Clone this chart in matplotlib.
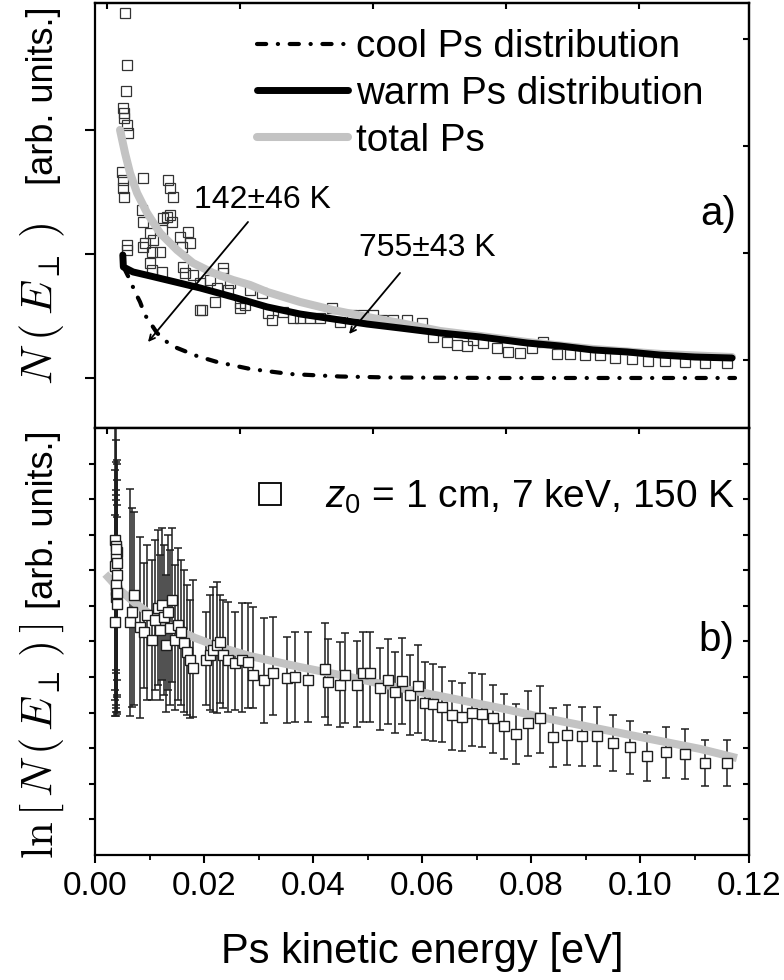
import numpy as np
import matplotlib

matplotlib.use("Agg")
import matplotlib.pyplot as plt  # noqa: E402
from matplotlib.lines import Line2D  # noqa: E402
from matplotlib.ticker import FormatStrFormatter, MultipleLocator  # noqa: E402

plt.rcParams["font.family"] = ["Liberation Sans", "DejaVu Sans"]
plt.rcParams["mathtext.fontset"] = "custom"
plt.rcParams["mathtext.rm"] = "Liberation Sans"
plt.rcParams["mathtext.it"] = "Liberation Sans:italic"

GRAY = "#c3c3c3"

# ---- panel a: N(E) data (eV, arb. units) ----
a_x = [0.00514, 0.00532, 0.00532, 0.00587, 0.00606, 0.00550, 0.00587, 0.00569,
       0.00495, 0.00514, 0.00514, 0.00532, 0.00587, 0.00587, 0.00862, 0.00881,
       0.00881, 0.00917, 0.00881, 0.01009, 0.01064, 0.01046, 0.01193, 0.01009,
       0.01046, 0.01229, 0.01229, 0.01248, 0.01321, 0.01339, 0.01376, 0.01376,
       0.01413, 0.01431, 0.01560, 0.01596, 0.01615, 0.01651, 0.01706, 0.01743,
       0.01798, 0.01927, 0.01927, 0.01963, 0.02110, 0.02202, 0.02239, 0.02349,
       0.02349, 0.02440, 0.02477, 0.02661, 0.02661, 0.02752, 0.02844, 0.03064,
       0.03174, 0.03248, 0.03450, 0.03633, 0.03761, 0.03945, 0.04129, 0.04349,
       0.04496, 0.04716, 0.04918, 0.05101, 0.05266, 0.05468, 0.05725, 0.06000,
       0.06202, 0.06459, 0.06642, 0.06826, 0.06936, 0.07119, 0.07376, 0.07578,
       0.07798, 0.08018, 0.08220, 0.08477, 0.08716, 0.08991, 0.09266, 0.09541,
       0.09853, 0.10147, 0.10459, 0.10826, 0.11193, 0.11596]
a_y = [2.177, 2.137, 2.097, 2.040, 1.976, 2.944, 2.524, 2.315,
       1.661, 1.597, 1.532, 1.460, 1.073, 1.032, 1.355, 1.613,
       1.258, 1.089, 1.056, 1.169, 1.113, 1.016, 1.016, 0.927,
       0.871, 0.855, 1.194, 1.290, 1.298, 1.597, 1.532, 1.315,
       1.258, 1.460, 1.137, 1.056, 0.895, 0.847, 1.177, 1.089,
       0.831, 0.766, 0.548, 0.548, 0.790, 0.613, 0.726, 0.887,
       0.847, 0.710, 0.766, 0.605, 0.565, 0.589, 0.710, 0.685,
       0.524, 0.468, 0.532, 0.484, 0.484, 0.484, 0.484, 0.565,
       0.452, 0.508, 0.508, 0.508, 0.468, 0.468, 0.468, 0.444,
       0.331, 0.290, 0.266, 0.258, 0.306, 0.282, 0.242, 0.210,
       0.202, 0.242, 0.290, 0.194, 0.194, 0.185, 0.185, 0.161,
       0.153, 0.137, 0.137, 0.129, 0.121, 0.121]

warm_x = [0.00510, 0.00520, 0.00697, 0.01009, 0.01321, 0.01927, 0.02532, 0.03156,
          0.03761, 0.04367, 0.04991, 0.05596, 0.06330, 0.07064, 0.07927, 0.08532,
          0.09138, 0.09762, 0.10367, 0.11009, 0.11688]
warm_y = [0.992, 0.895, 0.855, 0.823, 0.790, 0.726, 0.653, 0.573,
          0.516, 0.476, 0.435, 0.403, 0.363, 0.331, 0.282, 0.258,
          0.226, 0.210, 0.185, 0.169, 0.161]

total_x = [0.00459, 0.00550, 0.00642, 0.00771, 0.00954, 0.01193, 0.01505, 0.01798,
           0.02165, 0.02532, 0.02844, 0.03156, 0.03761, 0.04367, 0.04991, 0.05596,
           0.06330, 0.07064, 0.07927, 0.09138, 0.10367, 0.11688]
total_y = [2.000, 1.815, 1.653, 1.492, 1.331, 1.169, 1.032, 0.927,
           0.847, 0.790, 0.750, 0.694, 0.613, 0.548, 0.492, 0.444,
           0.379, 0.339, 0.290, 0.234, 0.194, 0.169]

cool_x = [0.00532, 0.00642, 0.00734, 0.00826, 0.00917, 0.01138, 0.01321, 0.01505,
          0.01872, 0.02239, 0.02844, 0.03578, 0.04496, 0.05413, 0.07431, 0.11743]
cool_y = [0.887, 0.790, 0.694, 0.613, 0.508, 0.363, 0.290, 0.242,
          0.177, 0.129, 0.073, 0.032, 0.012, 0.004, 0.000, 0.000]

# ---- panel b: ln N(E) with error bars ----
b_x = [0.00367, 0.00385, 0.00404, 0.00385, 0.00367, 0.00404, 0.00385, 0.00385,
       0.00404, 0.00367, 0.00376, 0.00395, 0.00376, 0.00395,
       0.00642, 0.00679, 0.00716, 0.00826, 0.00899, 0.00954,
       0.01046, 0.01101, 0.01156, 0.01193, 0.01229, 0.01266, 0.01303, 0.01339,
       0.01376, 0.01413, 0.01468, 0.01523, 0.01578, 0.01633, 0.01688, 0.01743,
       0.01798,
       0.02037, 0.02110, 0.02165, 0.02239, 0.02294, 0.02349, 0.02440, 0.02569,
       0.02697, 0.02807,
       0.02905, 0.03101, 0.03272, 0.03518, 0.03670, 0.03914, 0.04220, 0.04281,
       0.04496, 0.04587, 0.04802, 0.04923, 0.05046, 0.05229, 0.05382, 0.05505,
       0.05628, 0.05780, 0.05918, 0.06055, 0.06208, 0.06362, 0.06545, 0.06729,
       0.06918, 0.07096, 0.07297, 0.07505, 0.07719, 0.07951, 0.08165, 0.08410,
       0.08666, 0.08930, 0.09206, 0.09510, 0.09817, 0.10123, 0.10477, 0.10826,
       0.11193, 0.11591]
b_y = [8.85, 8.68, 8.51, 8.34, 8.12, 7.87, 7.44, 7.25, 7.05, 6.54,
       8.60, 8.20, 7.60, 7.35,
       6.54, 6.83, 7.30, 6.40, 6.26, 6.74,
       6.04, 6.60, 6.94, 6.32, 7.02, 6.69, 5.90, 6.83, 6.38, 7.16, 6.04, 6.46,
       6.26, 5.96, 5.70, 5.48, 5.25,
       5.48, 5.62, 5.76, 5.90, 5.98, 5.62, 5.48, 5.39, 5.48, 5.42,
       5.06, 4.92, 5.10, 4.96, 5.01, 4.92, 5.24, 4.87, 4.78, 5.06, 4.78, 5.10,
       5.10, 4.68, 4.91, 4.59, 4.90, 4.49, 4.76, 4.28, 4.24, 4.17, 3.93, 3.88,
       4.00, 3.96, 3.84, 3.62, 3.40, 3.70, 3.84, 3.32, 3.37, 3.34, 3.34, 3.14,
       3.03, 2.78, 2.88, 2.83, 2.59, 2.58]
b_lo = [4.35, 4.21, 4.92, 4.13, 4.63, 4.02, 3.90, 5.20, 4.44, 3.90,
        4.02, 4.50, 5.10, 3.95,
        3.90, 4.16, 4.21, 3.85, 4.69, 4.35,
        4.35, 4.63, 4.78, 4.35, 4.92, 4.49, 4.02, 4.63, 4.21, 4.86, 4.07, 4.35,
        4.21, 4.02, 3.93, 3.85, 3.88,
        4.21, 4.07, 4.02, 3.99, 4.27, 4.13, 4.02, 4.07, 4.02, 4.13,
        4.12, 3.70, 3.93, 3.70, 3.74, 3.74, 3.88, 3.65, 3.60, 3.70, 3.60, 3.74,
        3.74, 3.51, 3.68, 3.42, 3.68, 3.37, 3.42, 3.23, 3.21, 3.18, 2.95, 2.92,
        3.06, 3.04, 2.87, 2.70, 2.55, 2.78, 2.86, 2.48, 2.53, 2.50, 2.50, 2.36,
        2.27, 2.08, 2.17, 2.13, 1.95, 1.94]
b_hi = [12.78, 11.66, 11.10, 11.04, 10.81, 10.53, 10.25, 9.97, 9.83, 9.55,
        12.40, 11.00, 10.11, 9.49,
        10.28, 9.75, 9.63, 8.93, 8.20, 8.71,
        8.29, 8.85, 9.13, 8.43, 9.19, 8.71, 7.87, 8.99, 8.57, 9.19, 8.15, 8.62,
        8.29, 8.01, 7.58, 7.16, 7.72,
        6.83, 7.30, 7.53, 7.67, 7.30, 7.16, 7.11, 6.83, 7.08, 7.08,
        6.96, 6.65, 6.68, 6.13, 6.27, 6.27, 6.51, 6.06, 5.99, 6.24, 6.01, 6.27,
        6.27, 5.82, 6.06, 5.71, 6.09, 5.62, 5.90, 5.43, 5.38, 5.29, 4.90, 4.84,
        5.12, 5.08, 4.79, 4.51, 4.23, 4.62, 4.76, 4.14, 4.21, 4.17, 4.17, 3.93,
        3.77, 3.46, 3.60, 3.53, 3.23, 3.23]

fit_x = [0.00239, 0.00459, 0.00734, 0.01009, 0.01376, 0.01835, 0.02294, 0.02844,
         0.03761, 0.04679, 0.05596, 0.06514, 0.07431, 0.08349, 0.09266, 0.10183,
         0.11101, 0.11706]
fit_y = [7.81, 7.44, 7.08, 6.77, 6.43, 6.10, 5.84, 5.59,
         5.28, 5.00, 4.69, 4.41, 4.13, 3.82, 3.54, 3.26,
         2.98, 2.75]

top_ticks = [0.0022, 0.0266, 0.0510, 0.0754, 0.0998]
right_ticks_a = [0.145, 1.008, 1.871, 2.734]

fig = plt.figure(figsize=(7.84, 9.8), dpi=100)
ax_a = fig.add_axes([0.1212, 0.5633, 0.8342, 0.4337])
ax_b = fig.add_axes([0.1212, 0.1276, 0.8342, 0.4357])

# ---- panel a ----
ax_a.plot(a_x, a_y, ls="none", marker="s", ms=7.8, mfc="none", mec="#333333",
          mew=0.9, zorder=2)
cool, = ax_a.plot(cool_x, cool_y, color="k", lw=3.0, ls=(0, (2.2, 2.8, 0.05, 2.8)),
                  dash_capstyle="round", zorder=3)
total, = ax_a.plot(total_x, total_y, color=GRAY, lw=5.8, solid_capstyle="round", zorder=3)
warm, = ax_a.plot(warm_x, warm_y, color="k", lw=5.0, solid_capstyle="round", zorder=4)
ax_a.legend([cool, warm, total],
            ["cool Ps distribution", "warm Ps distribution", "total Ps"],
            loc="center left", bbox_to_anchor=(0.2477, 0.786), frameon=False,
            fontsize=27.8, handlelength=2.35, handletextpad=0.21, labelspacing=0.28,
            borderpad=0, borderaxespad=0)

arrow = dict(arrowstyle="->", lw=1.3, color="k", shrinkA=0, shrinkB=0)
ax_a.annotate("", xy=(0.00972, 0.290), xytext=(0.02807, 1.258), arrowprops=arrow, zorder=5)
ax_a.annotate("", xy=(0.04661, 0.355), xytext=(0.05596, 0.847), arrowprops=arrow, zorder=5)
ax_a.text(0.03064, 1.435, "142±46 K", fontsize=23, ha="center", va="center")
ax_a.text(0.06092, 1.048, "755±43 K", fontsize=23, ha="center", va="center")
ax_a.text(0.11431, 1.323, "a)", fontsize=29, ha="center", va="center")

ax_a.set_xlim(0, 0.12)
ax_a.set_ylim(-0.403, 3.024)
ax_a.set_yticks([0, 1, 2])
ax_a.tick_params(axis="y", direction="out", length=7, width=1.5, labelleft=False)
ax_a.tick_params(axis="x", bottom=False, labelbottom=False)

# ---- panel b ----
b_x, b_y, b_lo, b_hi = map(np.asarray, (b_x, b_y, b_lo, b_hi))
ax_b.errorbar(b_x, b_y, yerr=[b_y - b_lo, b_hi - b_y], fmt="none", ecolor="#1e1e1e",
              elinewidth=1.1, capsize=3, capthick=1.1, zorder=2)
ax_b.plot(fit_x, fit_y, color=GRAY, lw=5.8, zorder=3)
ax_b.plot(b_x, b_y, ls="none", marker="s", ms=7.8, mfc="white", mec="#1e1e1e",
          mew=1.0, zorder=4)
proxy = Line2D([], [], ls="none", marker="s", ms=16.5, mfc="white", mec="k", mew=1.3)
ax_b.legend([proxy], [r"$z_{\mathit{0}}$ = 1 cm, 7 keV, 150 K"], loc="center left",
            bbox_to_anchor=(0.214, 0.838), frameon=False, fontsize=28,
            handlelength=1.8, handletextpad=0.51, borderpad=0, borderaxespad=0)
ax_b.text(0.11395, 6.04, "b)", fontsize=29, ha="center", va="center")

ax_b.set_xlim(0, 0.12)
ax_b.set_ylim(0, 12)
ax_b.xaxis.set_major_locator(MultipleLocator(0.02))
ax_b.xaxis.set_minor_locator(MultipleLocator(0.01))
ax_b.xaxis.set_major_formatter(FormatStrFormatter("%.2f"))
ax_b.tick_params(axis="x", which="major", direction="out", length=5.5, width=1.5,
                 labelsize=24, pad=6)
ax_b.tick_params(axis="x", which="minor", direction="out", length=3.5, width=1.3)
ax_b.set_yticks(range(1, 12))
ax_b.tick_params(axis="y", direction="out", length=4.5, width=1.5, labelleft=False)
ax_b.set_xlabel("Ps kinetic energy [eV]", fontsize=30, labelpad=22)

# y labels: large math part plus plain-text units, as in the original
lab = dict(rotation=90, rotation_mode="anchor", va="baseline")
fig.text(0.0676, 0.607, r"$N\:(\:E_{\perp}\:)$", fontsize=32, math_fontfamily="cm",
         ha="left", **lab)
fig.text(0.0676, 0.994, "[arb. units.]", fontsize=26, ha="right", **lab)
fig.text(0.0676, 0.123, r"$\mathrm{ln}\,[\,N\,(\,E_{\perp}\,)\,]$", fontsize=32,
         math_fontfamily="cm", ha="left", **lab)
fig.text(0.0676, 0.561, "[arb. units.]", fontsize=26, ha="right", **lab)

for ax, rt in ((ax_a, right_ticks_a), (ax_b, list(range(1, 12)))):
    for s in ax.spines.values():
        s.set_linewidth(1.6)
    top = ax.secondary_xaxis("top")
    top.set_xticks(top_ticks)
    top.tick_params(direction="in", length=4, width=1.5, labeltop=False)
    top.spines["top"].set_linewidth(1.6)
    right = ax.secondary_yaxis("right")
    right.set_yticks(rt)
    right.tick_params(direction="in", length=4, width=1.5, labelright=False)
    right.spines["right"].set_linewidth(1.6)

fig.savefig("out.png", dpi=100)
